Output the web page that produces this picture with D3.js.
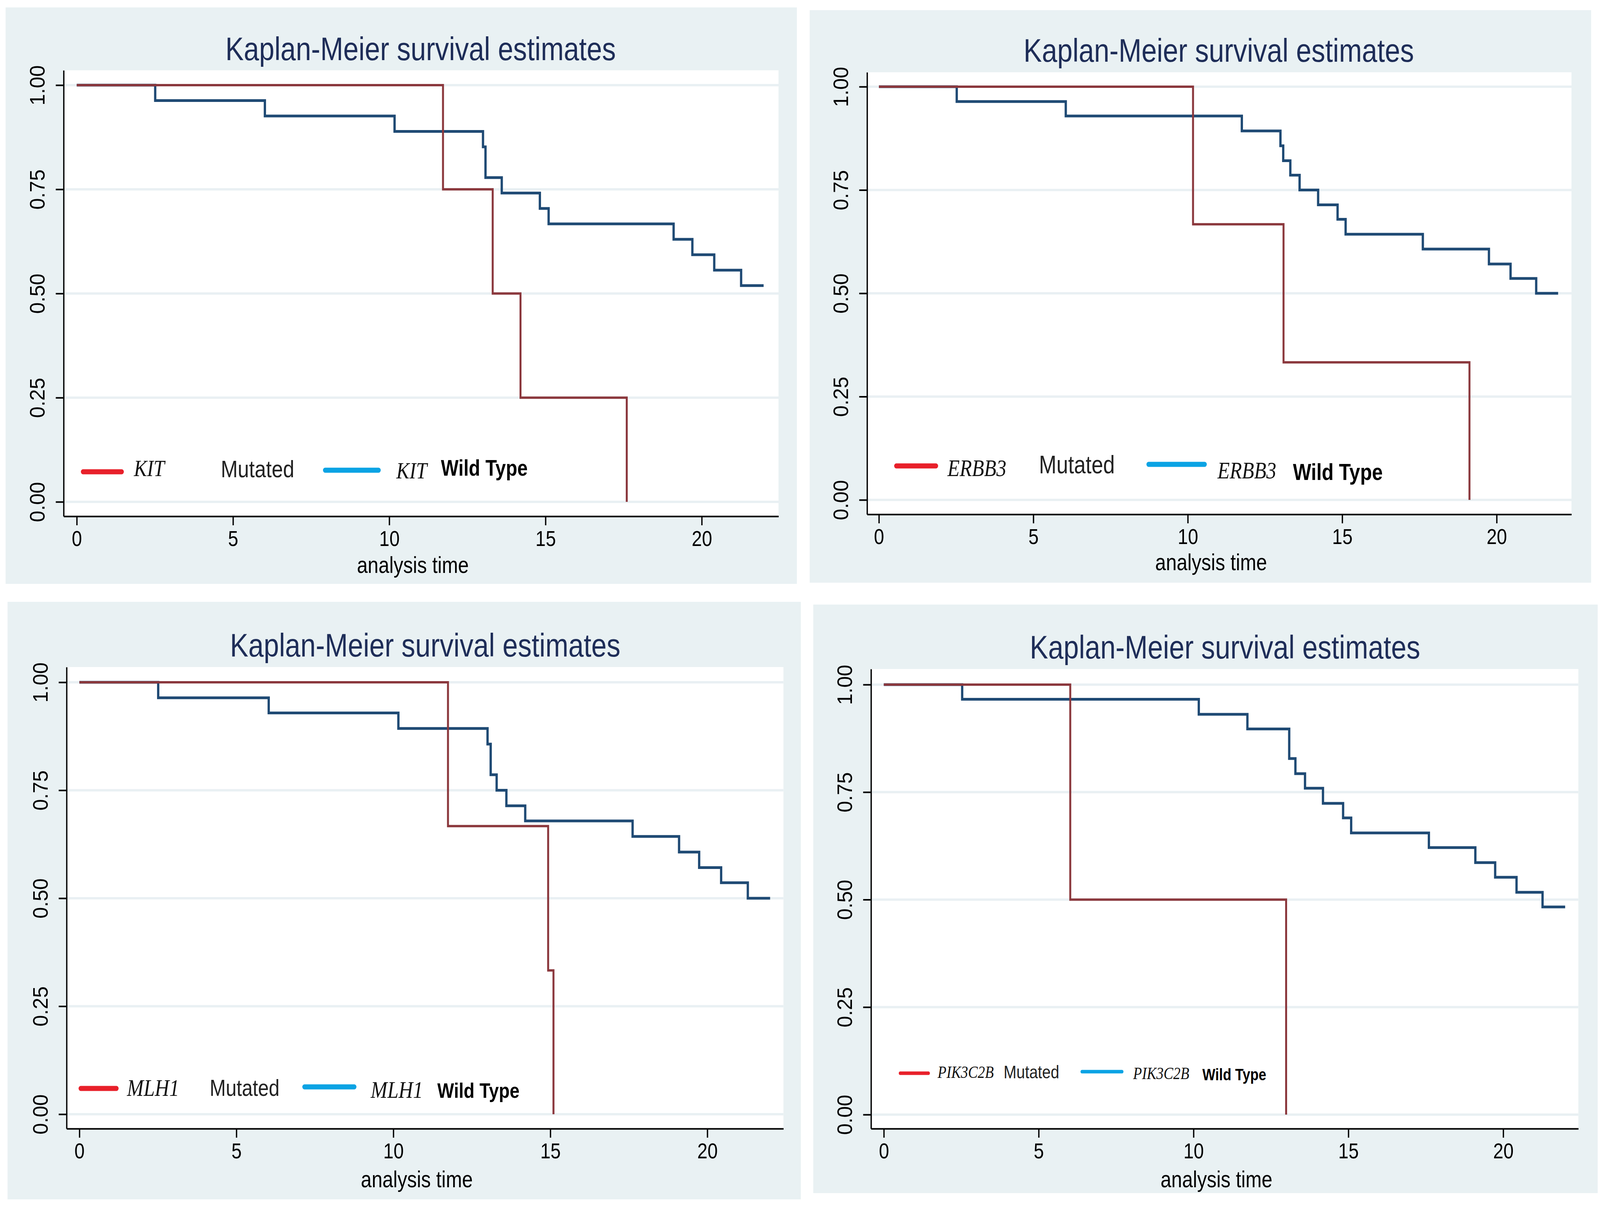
<!doctype html>
<html>
<head>
<meta charset="utf-8">
<script src="https://d3js.org/d3.v7.min.js"></script>
<style>
  html, body { margin: 0; padding: 0; background: #fff; overflow: hidden; }
  svg { display: block; width: 100vw; height: 100vh; }
</style>
</head>
<body>
<svg id="fig" viewBox="0 0 4877 3088" preserveAspectRatio="none"></svg>
<script>
// tick values
var timeTicks = [0, 5, 10, 15, 20];
var survTicks = [0, 0.25, 0.5, 0.75, 1];

var chartTitle = "Kaplan-Meier survival estimates";
var xTitle = "analysis time";
var genes = ["KIT", "ERBB3", "MLH1", "PIK3C2B"];

// KIT
var kitMutTime  = [0, 11.72, 13.31, 14.2, 17.6];
var kitMutSurv  = [1, 0.75, 0.5, 0.25, 0];
var kitWildTime = [0, 2.51, 6.02, 10.17, 13.0, 13.08, 13.6, 14.82, 15.1, 19.1, 19.7, 20.4, 21.26, 21.98];
var kitWildSurv = [1, 0.963, 0.926, 0.889, 0.852, 0.778, 0.741, 0.704, 0.667, 0.630, 0.593, 0.556, 0.519, 0.519];

// ERBB3
var erbbMutTime  = [0, 10.17, 13.1, 19.12];
var erbbMutSurv  = [1, 0.667, 0.333, 0];
var erbbWildTime = [0, 2.52, 6.05, 11.75, 13.0, 13.09, 13.32, 13.62, 14.22, 14.85, 15.11, 17.61, 19.75, 20.45, 21.28, 21.99];
var erbbWildSurv = [1, 0.964, 0.929, 0.893, 0.857, 0.821, 0.786, 0.75, 0.714, 0.679, 0.643, 0.607, 0.571, 0.536, 0.5, 0.5];

// MLH1
var mlhMutTime  = [0, 11.74, 14.93, 15.1];
var mlhMutSurv  = [1, 0.667, 0.333, 0];
var mlhWildTime = [0, 2.51, 6.03, 10.16, 13.0, 13.1, 13.29, 13.6, 14.2, 17.62, 19.1, 19.74, 20.44, 21.29, 22.0];
var mlhWildSurv = [1, 0.964, 0.929, 0.893, 0.857, 0.786, 0.75, 0.714, 0.679, 0.643, 0.607, 0.571, 0.536, 0.5, 0.5];

// PIK3C2B
var pikMutTime  = [0, 6.02, 12.99];
var pikMutSurv  = [1, 0.5, 0];
var pikWildTime = [0, 2.53, 10.17, 11.74, 13.09, 13.29, 13.6, 14.18, 14.83, 15.09, 17.6, 19.1, 19.74, 20.43, 21.27, 22.0];
var pikWildSurv = [1, 0.966, 0.931, 0.897, 0.828, 0.793, 0.759, 0.724, 0.690, 0.655, 0.621, 0.586, 0.552, 0.517, 0.483, 0.483];

var curves = [
  { mut: [kitMutTime, kitMutSurv],   wild: [kitWildTime, kitWildSurv] },
  { mut: [erbbMutTime, erbbMutSurv], wild: [erbbWildTime, erbbWildSurv] },
  { mut: [mlhMutTime, mlhMutSurv],   wild: [mlhWildTime, mlhWildSurv] },
  { mut: [pikMutTime, pikMutSurv],   wild: [pikWildTime, pikWildSurv] }
];

// panel geometry (pixels): bg box, plot box, where t=0/t=20 and S=0/S=1 fall
var panels = [
  { bg: [17, 19, 2429, 1495], plot: [194, 180, 2373, 1322], x0: 234, x20: 2139, y0: 1285, y1: 218,
    titleX: 1282, titleY: 154, axisY: 1467,
    leg: { y: 1208, r: [253, 371], g1: 408, m: 673, b: [991, 1154], g2: 1208, w: 1344,
           gBase: [1219, 1225], mBase: 1222, wBase: 1218, gs: 60, ms: 62, ws: 57, lw: 13 } },
  { bg: [2468, 26, 4850, 1492], plot: [2643, 185, 4790, 1317], x0: 2679, x20: 4562, y0: 1280, y1: 222,
    titleX: 3715, titleY: 158, axisY: 1460,
    leg: { y: 1193, r: [2732, 2853], g1: 2888, m: 3167, b: [3501, 3672], g2: 3711, w: 3941,
           gBase: [1219, 1225], mBase: 1212, wBase: 1229, gs: 61, ms: 64, ws: 59, lw: 13 } },
  { bg: [23, 1541, 2441, 3071], plot: [203, 1708, 2388, 2890], x0: 242, x20: 2156, y0: 2853, y1: 1747,
    titleX: 1296, titleY: 1681, axisY: 3040,
    leg: { y: 2787, r: [246, 355], g1: 387, m: 639, b: [928, 1080], g2: 1130, w: 1333,
           gBase: [2806, 2811], mBase: 2806, wBase: 2811, gs: 61, ms: 59, ws: 54, lw: 13 } },
  { bg: [2479, 1548, 4870, 3055], plot: [2655, 1713, 4811, 2890], x0: 2694, x20: 4582, y0: 2854, y1: 1753,
    titleX: 3734, titleY: 1686, axisY: 3040,
    leg: { y: 2748, r: [2744, 2830], g1: 2858, m: 3059, b: [3298, 3420], g2: 3454, w: 3665,
           gBase: [2760, 2763], mBase: 2761, wBase: 2766, gs: 44, ms: 47, ws: 42, lw: 9 } }
];

var sans = "'Liberation Sans', Arial, Helvetica, sans-serif";
var serif = "'Liberation Serif', 'Times New Roman', serif";
var bgColor = "#e9f1f3";
var gridColor = "#e9f0f3";
var mutColor = "#8b383d";
var wildColor = "#1f4a74";

var svg = d3.select("#fig");

panels.forEach(function (p, i) {
  var g = svg.append("g");

  g.append("rect")
    .attr("x", p.bg[0]).attr("y", p.bg[1])
    .attr("width", p.bg[2] - p.bg[0]).attr("height", p.bg[3] - p.bg[1])
    .attr("fill", bgColor);

  g.append("rect")
    .attr("x", p.plot[0]).attr("y", p.plot[1])
    .attr("width", p.plot[2] - p.plot[0]).attr("height", p.plot[3] - p.plot[1])
    .attr("fill", "#fff");

  // scales: same linear map as 0..20 / 0..1, stretched to the plot box edges
  var xs = d3.scaleLinear().domain([0, 20]).range([p.x0, p.x20]);
  var ys = d3.scaleLinear().domain([0, 1]).range([p.y0, p.y1]);
  var x = d3.scaleLinear().domain([xs.invert(p.plot[0]), xs.invert(p.plot[2])]).range([p.plot[0], p.plot[2]]);
  var y = d3.scaleLinear().domain([ys.invert(p.plot[3]), ys.invert(p.plot[1])]).range([p.plot[3], p.plot[1]]);

  // grid lines
  g.append("g").selectAll("line")
    .data(survTicks)
    .enter().append("line")
    .attr("x1", p.plot[0]).attr("x2", p.plot[2])
    .attr("y1", function (d) { return y(d); })
    .attr("y2", function (d) { return y(d); })
    .attr("stroke", gridColor)
    .attr("stroke-width", 6);

  // survival curves
  var line = d3.line()
    .x(function (d) { return x(d[0]); })
    .y(function (d) { return y(d[1]); })
    .curve(d3.curveStepAfter);

  var c = curves[i];
  var wildPts = c.wild[0].map(function (t, k) { return [t, c.wild[1][k]]; });
  var mutPts = c.mut[0].map(function (t, k) { return [t, c.mut[1][k]]; });

  g.append("path").datum(wildPts)
    .attr("d", line).attr("fill", "none")
    .attr("stroke", wildColor).attr("stroke-width", 7);

  g.append("path").datum(mutPts)
    .attr("d", line).attr("fill", "none")
    .attr("stroke", mutColor).attr("stroke-width", 6);

  // x axis
  var xAxis = g.append("g")
    .attr("transform", "translate(0," + p.plot[3] + ")")
    .call(d3.axisBottom(x).tickValues(timeTicks).tickSize(23).tickSizeOuter(0));
  xAxis.select(".domain").attr("stroke", "#000").attr("stroke-width", 4);
  xAxis.selectAll(".tick line").attr("stroke", "#000").attr("stroke-width", 4);
  xAxis.selectAll(".tick text")
    .attr("y", 76).attr("dy", 0)
    .attr("fill", "#000")
    .style("font-family", sans).style("font-size", "56px");

  // y axis
  var yAxis = g.append("g")
    .attr("transform", "translate(" + p.plot[0] + ",0)")
    .call(d3.axisLeft(y).tickValues(survTicks).tickFormat(d3.format(".2f")).tickSize(24).tickSizeOuter(0));
  yAxis.select(".domain").attr("stroke", "#000").attr("stroke-width", 4);
  yAxis.selectAll(".tick line").attr("stroke", "#000").attr("stroke-width", 4);
  yAxis.selectAll(".tick text")
    .attr("x", 0).attr("dy", 0)
    .attr("transform", "translate(-58,0) rotate(-90)")
    .attr("text-anchor", "middle")
    .attr("fill", "#000")
    .attr("textLength", 103)
    .attr("lengthAdjust", "spacingAndGlyphs")
    .style("font-family", sans).style("font-size", "63px");

  // titles
  g.append("text")
    .attr("x", p.titleX).attr("y", p.titleY)
    .attr("text-anchor", "middle")
    .attr("fill", "#1e2d58")
    .style("font-family", sans).style("font-size", "84px")
    .text(chartTitle);

  g.append("text")
    .attr("x", (p.plot[0] + p.plot[2]) / 2 - 25).attr("y", p.axisY)
    .attr("text-anchor", "middle")
    .attr("fill", "#000")
    .style("font-family", sans).style("font-size", "59px")
    .text(xTitle);

  // legend
  var L = p.leg;
  g.append("line")
    .attr("x1", L.r[0]).attr("x2", L.r[1]).attr("y1", L.y).attr("y2", L.y)
    .attr("stroke", "#e8202a").attr("stroke-width", L.lw).attr("stroke-linecap", "round");
  g.append("line")
    .attr("x1", L.b[0]).attr("x2", L.b[1]).attr("y1", L.y - 4).attr("y2", L.y - 4)
    .attr("stroke", "#0ba3e4").attr("stroke-width", L.lw).attr("stroke-linecap", "round");

  g.append("text")
    .attr("x", L.g1).attr("y", L.gBase[0])
    .attr("fill", "#111")
    .style("font-family", serif).style("font-style", "italic").style("font-size", L.gs + "px")
    .text(genes[i]);
  g.append("text")
    .attr("x", L.m).attr("y", L.mBase)
    .attr("fill", "#222")
    .style("font-family", sans).style("font-size", L.ms + "px")
    .text("Mutated");
  g.append("text")
    .attr("x", L.g2).attr("y", L.gBase[1])
    .attr("fill", "#111")
    .style("font-family", serif).style("font-style", "italic").style("font-size", L.gs + "px")
    .text(genes[i]);
  g.append("text")
    .attr("x", L.w).attr("y", L.wBase)
    .attr("fill", "#000")
    .style("font-family", sans).style("font-weight", "bold").style("font-size", L.ws + "px")
    .text("Wild Type");
});
</script>
</body>
</html>
